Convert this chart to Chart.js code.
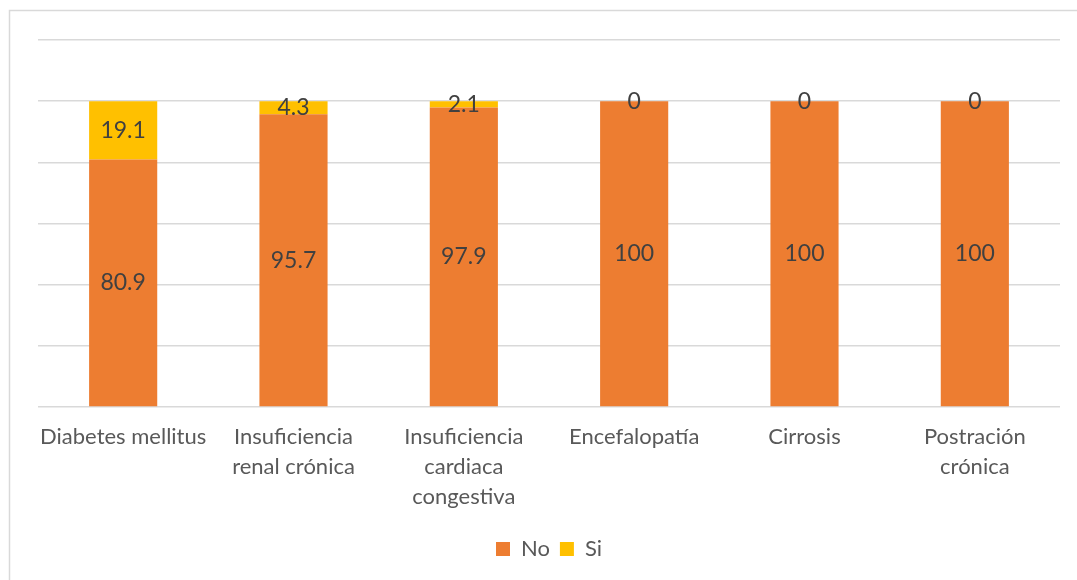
<!DOCTYPE html>
<html>
<head>
<meta charset="utf-8">
<script src="https://cdn.jsdelivr.net/npm/chart.js@4"></script>
<style>
  html, body { margin: 0; padding: 0; background: #fff; }
  #wrap { position: relative; width: 1077px; height: 580px; }
</style>
</head>
<body>
<div id="wrap"><canvas id="myChart" width="1077" height="580"></canvas></div>
<script>
// categories and series (percent)
var categories = [
  ["Diabetes mellitus"],
  ["Insuficiencia", "renal crónica"],
  ["Insuficiencia", "cardiaca", "congestiva"],
  ["Encefalopatía"],
  ["Cirrosis"],
  ["Postración", "crónica"]
];
var noValues = [80.9, 95.7, 97.9, 100, 100, 100];
var siValues = [19.1, 4.3, 2.1, 0, 0, 0];
var seriesNames = ["No", "Si"];

var FONT = "Lato, 'Open Sans', sans-serif";

// white background + thin grey frame round the chart
var framePlugin = {
  id: 'frame',
  beforeDraw: function(chart) {
    var c = chart.ctx;
    c.save();
    c.fillStyle = '#fff';
    c.fillRect(0, 0, chart.width, chart.height);
    c.strokeStyle = '#d9d9d9';
    c.lineWidth = 1.5;
    c.strokeRect(9.5, 10.5, chart.width + 10, chart.height + 10);
    c.restore();
  }
};

// value labels in the middle of each segment
var valueLabels = {
  id: 'valueLabels',
  afterDatasetsDraw: function(chart) {
    var c = chart.ctx;
    c.save();
    c.font = '23px ' + FONT;
    c.fillStyle = '#404040';
    c.textAlign = 'center';
    c.textBaseline = 'middle';
    chart.data.datasets.forEach(function(ds, i) {
      var meta = chart.getDatasetMeta(i);
      meta.data.forEach(function(bar, j) {
        var p = bar.getProps(['x', 'y', 'base'], true);
        c.fillText(String(ds.data[j]), p.x, (p.y + p.base) / 2);
      });
    });
    c.restore();
  }
};

window.onload = function() {
  var ctx = document.getElementById("myChart").getContext('2d');
  window.myChart = new Chart(ctx, {
    type: 'bar',
    data: {
      labels: categories,
      datasets: [{
        label: seriesNames[0],
        data: noValues,
        backgroundColor: '#ED7D31',
        borderWidth: 0
      }, {
        label: seriesNames[1],
        data: siValues,
        backgroundColor: '#FFC000',
        borderWidth: 0
      }]
    },
    options: {
      responsive: false,
      animation: false,
      layout: { padding: { left: 38, right: 17, top: 40, bottom: 10 } },
      datasets: {
        bar: { categoryPercentage: 1, barPercentage: 0.4 }
      },
      scales: {
        x: {
          stacked: true,
          grid: { display: false, drawTicks: false },
          border: { display: false },
          ticks: {
            color: '#595959',
            font: { family: FONT, size: 22, lineHeight: 1.36 },
            padding: 15,
            maxRotation: 0,
            autoSkip: false
          },
          afterFit: function(scale) { scale.height = 121; }
        },
        y: {
          stacked: true,
          min: 0,
          max: 120,
          ticks: { display: false, stepSize: 20 },
          grid: { color: '#d9d9d9', lineWidth: 1.5, drawTicks: false },
          border: { display: false },
          afterFit: function(scale) { scale.width = 0; }
        }
      },
      plugins: {
        legend: {
          position: 'bottom',
          labels: {
            boxWidth: 14,
            boxHeight: 14,
            color: '#595959',
            font: { family: FONT, size: 22 },
            padding: 10
          }
        },
        tooltip: { enabled: false }
      }
    },
    plugins: [framePlugin, valueLabels]
  });
};
</script>
</body>
</html>
